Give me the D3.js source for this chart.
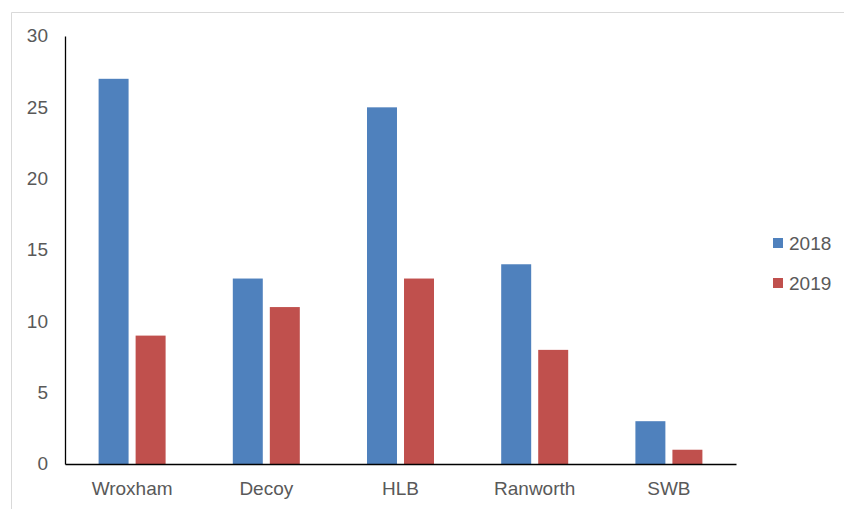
<!DOCTYPE html>
<html><head><meta charset="utf-8">
<script src="https://cdn.jsdelivr.net/npm/d3@7"></script>
<style>html,body{margin:0;padding:0;background:#fff;}svg{display:block;}</style>
</head><body>
<svg id="chart" width="844" height="509"></svg>
<script>
const categories = ["Wroxham", "Decoy", "HLB", "Ranworth", "SWB"];
const series2018 = [27, 13, 25, 14, 3];
const series2019 = [9, 11, 13, 8, 1];
const seriesNames = ["2018", "2019"];
const yTicks = [0, 5, 10, 15, 20, 25, 30];
const colors = ["#4F81BD", "#C0504D"];

const svg = d3.select("#chart");
const W = 844, H = 509;
const plot = {left: 65, right: 736, top: 36, bottom: 464};
const font = "'Liberation Sans', Arial, sans-serif";
const textColor = "#595959";

// chart border
svg.append("path").attr("d", `M11.5,${H} V12.5 H${W}`).attr("fill", "none")
  .attr("stroke", "#d9d9d9").attr("stroke-width", 1);

const x = d3.scaleBand().domain(categories).range([plot.left, plot.right]).paddingInner(0).paddingOuter(0);
const y = d3.scaleLinear().domain([0, 30]).range([plot.bottom, plot.top]);
const inner = d3.scaleBand().domain(seriesNames).range([-33.5, 33.5]).paddingInner(0.19);

const data = categories.map((c, i) => ({cat: c, vals: [series2018[i], series2019[i]]}));

const g = svg.append("g");
data.forEach(d => {
  const cx = x(d.cat) + x.bandwidth() / 2;
  seriesNames.forEach((s, j) => {
    g.append("rect")
      .attr("x", cx + inner(s))
      .attr("width", inner.bandwidth())
      .attr("y", y(d.vals[j]))
      .attr("height", y(0) - y(d.vals[j]))
      .attr("fill", colors[j]);
  });
});

// y axis
const yAxis = d3.axisLeft(y).tickValues(yTicks).tickSize(0).tickPadding(17);
const ya = svg.append("g").attr("transform", `translate(${plot.left},0)`).call(yAxis);
ya.select(".domain").attr("stroke", "#000").attr("stroke-width", 1.3);
ya.selectAll("text").attr("font-family", font).attr("font-size", 19).attr("fill", textColor).attr("dy", "0.3em");

// x axis
const xAxis = d3.axisBottom(x).tickSize(0).tickPadding(18);
const xa = svg.append("g").attr("transform", `translate(0,${plot.bottom})`).call(xAxis);
xa.select(".domain").attr("stroke", "#000").attr("stroke-width", 1.3);
xa.selectAll("text").attr("font-family", font).attr("font-size", 19).attr("fill", textColor);

// legend
const legY = [243, 283];
seriesNames.forEach((s, j) => {
  svg.append("rect").attr("x", 773).attr("y", legY[j] - 5).attr("width", 10).attr("height", 10).attr("fill", colors[j]);
  svg.append("text").attr("x", 789).attr("y", legY[j]).attr("dy", "0.35em")
    .attr("font-family", font).attr("font-size", 19).attr("fill", textColor).text(s);
});
</script>
</body></html>
